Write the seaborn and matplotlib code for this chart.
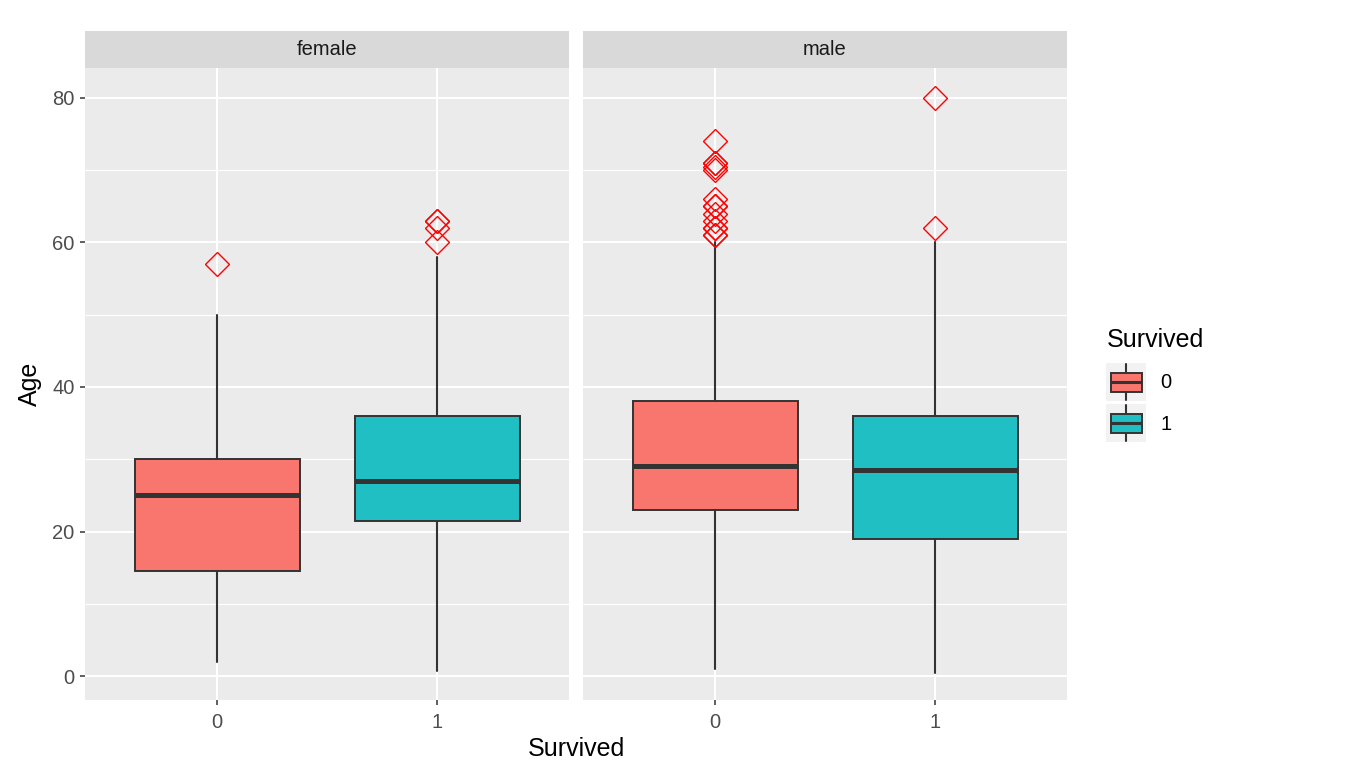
import numpy as np
import pandas as pd
import seaborn as sns
import matplotlib.pyplot as plt
from matplotlib.patches import Rectangle

# Box statistics (Age by Survived, split by sex)
sex = ['female', 'female', 'male', 'male']
survived = [0, 1, 0, 1]
whislo = [2, 0.75, 1, 0.42]
q1 = [14.5, 21.5, 23, 19]
med = [25, 27, 29, 28.5]
q3 = [30, 36, 38, 36]
whishi = [50, 58, 60, 60]
fliers = [
    [57],
    [60, 62, 63, 63],
    [61, 61, 62, 62, 63, 64, 65, 65, 66, 70, 70.5, 71, 71, 74],
    [62, 80],
]
y_ticks = [0, 20, 40, 60, 80]
y_minor = [10, 30, 50, 70]

palette = {0: '#F8766D', 1: '#20BFC4'}

df = pd.DataFrame({'sex': sex, 'survived': survived, 'whislo': whislo,
                   'q1': q1, 'med': med, 'q3': q3, 'whishi': whishi,
                   'fliers': fliers})

sns.set_theme(style='darkgrid', rc={'axes.facecolor': '#EBEBEB',
                                    'grid.color': 'white'})
plt.rcParams['font.family'] = ['Liberation Sans', 'DejaVu Sans']

W, H = 1358, 777


def draw_boxes(data, **kws):
    ax = plt.gca()
    stats = []
    for _, row in data.iterrows():
        stats.append(dict(med=row['med'], q1=row['q1'], q3=row['q3'],
                          whislo=row['whislo'], whishi=row['whishi'],
                          fliers=row['fliers']))
    bp = ax.bxp(stats, positions=data['survived'].tolist(), widths=0.75,
                patch_artist=True, showcaps=False, manage_ticks=False,
                boxprops=dict(edgecolor='#333333', linewidth=1.4),
                whiskerprops=dict(color='#333333', linewidth=1.5),
                medianprops=dict(color='#333333', linewidth=3.6, solid_capstyle='butt'),
                flierprops=dict(marker='D', markerfacecolor='none',
                                markeredgecolor='red', markersize=12,
                                markeredgewidth=1.0, linestyle='none'))
    for patch, s in zip(bp['boxes'], data['survived']):
        patch.set_facecolor(palette[s])


g = sns.FacetGrid(df, col='sex', sharey=True, height=6, aspect=1)
g.map_dataframe(draw_boxes)
fig = g.figure
fig.set_size_inches(W / 100, H / 100)
fig.subplots_adjust(left=85 / W, right=1067 / W, bottom=1 - 700 / H,
                    top=1 - 68 / H, wspace=14 / 484)
g.set_titles('')
g.set_axis_labels('', '')

for i, (ax, name) in enumerate(zip(g.axes.flat, ['female', 'male'])):
    ax.set_xlim(-0.6, 1.6)
    ax.set_ylim(-3.32, 84.15)
    ax.set_xticks([0, 1])
    ax.set_xticklabels(['0', '1'])
    ax.set_yticks(y_ticks)
    ax.set_yticks(y_minor, minor=True)
    ax.grid(which='major', color='white', linewidth=1.5)
    ax.grid(which='minor', color='white', linewidth=0.8)
    ax.set_axisbelow(True)
    for sp in ax.spines.values():
        sp.set_visible(False)
    ax.tick_params(axis='both', which='major', length=3.6, width=1.1,
                   color='#333333', labelcolor='#4D4D4D', labelsize=14.5)
    ax.tick_params(axis='x', bottom=True, pad=6)
    ax.tick_params(axis='y', left=(i == 0), pad=4, labelleft=(i == 0))
    ax.tick_params(which='minor', left=False, bottom=False)
    # strip
    sh = 37 / 632
    ax.add_patch(Rectangle((0, 1), 1, sh, transform=ax.transAxes,
                           clip_on=False, facecolor='#D9D9D9',
                           edgecolor='none'))
    ax.text(0.5, 1 + sh / 2, name, transform=ax.transAxes, ha='center',
            va='center', fontsize=14.5, color='#1A1A1A')

fig.text(576 / W, 1 - 749 / H, 'Survived', ha='center', va='center',
         fontsize=18, color='black')
fig.text(30 / W, 1 - 384 / H, 'Age', ha='center', va='center',
         rotation=90, fontsize=18, color='black')

# legend
lax = fig.add_axes([1100 / W, 1 - 450 / H, 120 / W, 130 / H])
lax.set_xlim(1100, 1220)
lax.set_ylim(450, 320)
lax.axis('off')
lax.text(1107, 340, 'Survived', ha='left', va='center', fontsize=18,
         color='black')
for k, (lab, top) in enumerate(zip(['0', '1'], [363, 404])):
    lax.add_patch(Rectangle((1106, top), 40, 38, facecolor='#F2F2F2',
                            edgecolor='none', zorder=1))
    cy = top + 19
    lax.plot([1126, 1126], [top + 1, top + 37], color='#333333', lw=1.5,
             zorder=2)
    lax.add_patch(Rectangle((1111, cy - 9.5), 31, 19,
                            facecolor=palette[int(lab)],
                            edgecolor='#333333', lw=1.4, zorder=3))
    lax.plot([1111, 1142], [cy, cy], color='#333333', lw=2.2, zorder=4,
             solid_capstyle='butt')
    lax.text(1160, cy + 1, lab, ha='left', va='center', fontsize=14.5,
             color='black')

fig.savefig('out.png', dpi=100, facecolor='white')
